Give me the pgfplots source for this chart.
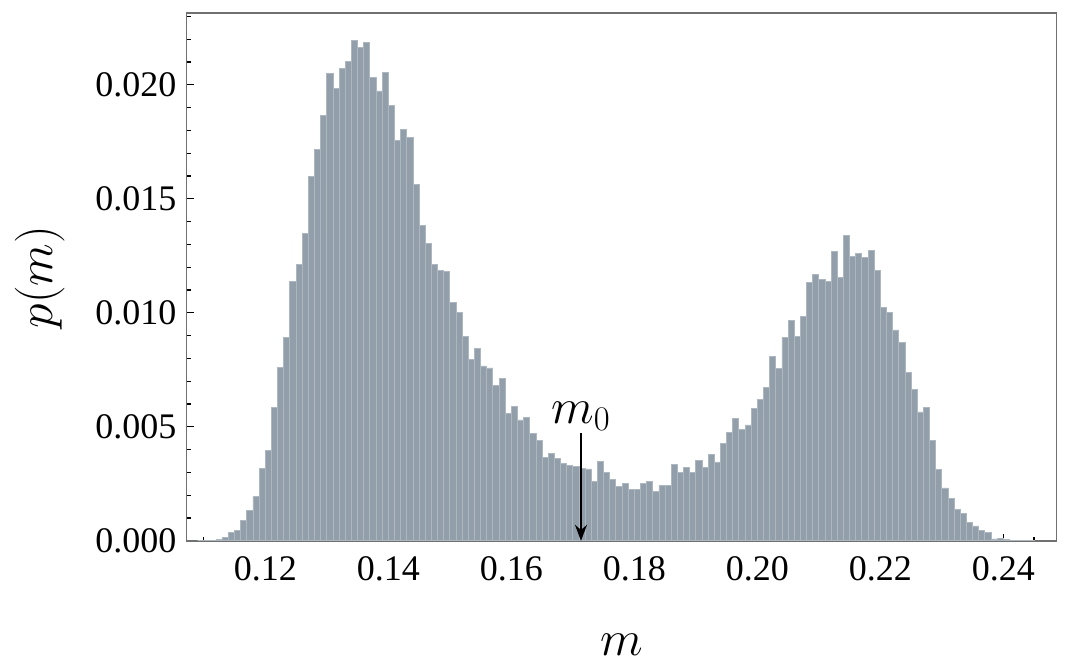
\documentclass[border=0pt]{standalone}
\usepackage[no-math]{fontspec}
\setmainfont{Liberation Serif}
\usepackage{pgfplots}
\pgfplotsset{compat=1.18}
\usetikzlibrary{arrows.meta}
\definecolor{barcol}{HTML}{929FAB}
\definecolor{baredge}{HTML}{ADB7C0}
\definecolor{framecol}{HTML}{707070}
\begin{document}
\begin{tikzpicture}
\begin{axis}[
  scale only axis, width=435pt, height=263.9pt,
  xmin=0.10722, xmax=0.24868, ymin=0, ymax=0.02315,
  clip=false,
  axis line style={framecol, line width=0.7pt},
  tick style={black, line width=0.6pt},
  major tick length=3.5pt, minor tick length=2pt,
  tick align=inside, xtick pos=bottom, ytick pos=left,
  scaled ticks=false,
  xtick={0.12,0.14,0.16,0.18,0.20,0.22,0.24},
  xticklabels={0.12,0.14,0.16,0.18,0.20,0.22,0.24},
  minor xtick={0.11,0.115,0.125,0.13,0.135,0.145,0.15,0.155,0.165,0.17,0.175,0.185,0.19,0.195,0.205,0.21,0.215,0.225,0.23,0.235,0.245},
  ytick={0,0.005,0.010,0.015,0.020},
  yticklabels={0.000,0.005,0.010,0.015,0.020},
  minor ytick={0.001,0.002,0.003,0.004,0.006,0.007,0.008,0.009,0.011,0.012,0.013,0.014,0.016,0.017,0.018,0.019,0.021,0.022,0.023},
  tick label style={font=\fontsize{18}{20}\selectfont},
  xticklabel style={anchor=north, inner sep=0pt, yshift=-7.5pt},
  yticklabel style={anchor=east, inner sep=0pt, xshift=-5pt},
]
\addplot[ybar interval, fill=barcol, draw=baredge, line width=0.4pt] table[row sep=\\] {
x y\\
0.109 0.0\\
0.110 0.00002\\
0.111 0.00003\\
0.112 0.00007\\
0.113 0.00014\\
0.114 0.00037\\
0.115 0.00044\\
0.116 0.00088\\
0.117 0.00133\\
0.118 0.00193\\
0.119 0.00316\\
0.120 0.00396\\
0.121 0.00584\\
0.122 0.00761\\
0.123 0.00891\\
0.124 0.01138\\
0.125 0.01212\\
0.126 0.01350\\
0.127 0.01597\\
0.128 0.01718\\
0.129 0.01867\\
0.130 0.02049\\
0.131 0.01986\\
0.132 0.02072\\
0.133 0.02103\\
0.134 0.02195\\
0.135 0.02163\\
0.136 0.02186\\
0.137 0.02033\\
0.138 0.01973\\
0.139 0.02053\\
0.140 0.01910\\
0.141 0.01756\\
0.142 0.01804\\
0.143 0.01768\\
0.144 0.01563\\
0.145 0.01383\\
0.146 0.01303\\
0.147 0.01212\\
0.148 0.01184\\
0.149 0.01180\\
0.150 0.01046\\
0.151 0.01000\\
0.152 0.00898\\
0.153 0.00795\\
0.154 0.00844\\
0.155 0.00767\\
0.156 0.00758\\
0.157 0.00680\\
0.158 0.00711\\
0.159 0.00559\\
0.160 0.00588\\
0.161 0.00530\\
0.162 0.00541\\
0.163 0.00471\\
0.164 0.00440\\
0.165 0.00364\\
0.166 0.00383\\
0.167 0.00361\\
0.168 0.00340\\
0.169 0.00332\\
0.170 0.00326\\
0.171 0.00318\\
0.172 0.00315\\
0.173 0.00261\\
0.174 0.00350\\
0.175 0.00300\\
0.176 0.00271\\
0.177 0.00237\\
0.178 0.00250\\
0.179 0.00227\\
0.180 0.00227\\
0.181 0.00252\\
0.182 0.00262\\
0.183 0.00217\\
0.184 0.00242\\
0.185 0.00242\\
0.186 0.00334\\
0.187 0.00299\\
0.188 0.00321\\
0.189 0.00299\\
0.190 0.00354\\
0.191 0.00322\\
0.192 0.00380\\
0.193 0.00346\\
0.194 0.00427\\
0.195 0.00474\\
0.196 0.00536\\
0.197 0.00487\\
0.198 0.00508\\
0.199 0.00581\\
0.200 0.00620\\
0.201 0.00673\\
0.202 0.00809\\
0.203 0.00756\\
0.204 0.00892\\
0.205 0.00968\\
0.206 0.00897\\
0.207 0.00983\\
0.208 0.01134\\
0.209 0.01169\\
0.210 0.01145\\
0.211 0.01137\\
0.212 0.01271\\
0.213 0.01156\\
0.214 0.01341\\
0.215 0.01249\\
0.216 0.01261\\
0.217 0.01242\\
0.218 0.01273\\
0.219 0.01184\\
0.220 0.01023\\
0.221 0.01002\\
0.222 0.00925\\
0.223 0.00869\\
0.224 0.00739\\
0.225 0.00663\\
0.226 0.00565\\
0.227 0.00585\\
0.228 0.00439\\
0.229 0.00312\\
0.230 0.00232\\
0.231 0.00187\\
0.232 0.00136\\
0.233 0.00121\\
0.234 0.00082\\
0.235 0.00065\\
0.236 0.00044\\
0.237 0.00036\\
0.238 0.00008\\
0.239 0.00012\\
0.240 0.00004\\
0.241 0.00002\\
0.242 0.00001\\
0.243 0.00001\\
0.244 0.00002\\
0.245 0.0\\
};
\draw[-{Stealth[length=8pt,width=6pt]}, line width=1pt, black]
  (axis cs:0.17133,0.00473) -- (axis cs:0.17133,0);
\node[anchor=south, inner sep=0pt, yshift=1pt, font=\fontsize{24}{26}\selectfont]
  at (axis cs:0.17133,0.00473) {$m_0$};
\node[anchor=base, inner sep=0pt, font=\fontsize{26}{28}\selectfont]
  at (axis cs:0.17795,-0.00501) {$m$};
\node[rotate=90, anchor=center, inner sep=0pt, font=\fontsize{27}{29}\selectfont]
  at (axis cs:0.0833,0.01157) {$p(m)$};
\end{axis}
\path ([xshift=-93.35pt,yshift=-64.1pt]current axis.south west) rectangle ([xshift=6.65pt,yshift=6.5pt]current axis.north east);
\end{tikzpicture}
\end{document}
